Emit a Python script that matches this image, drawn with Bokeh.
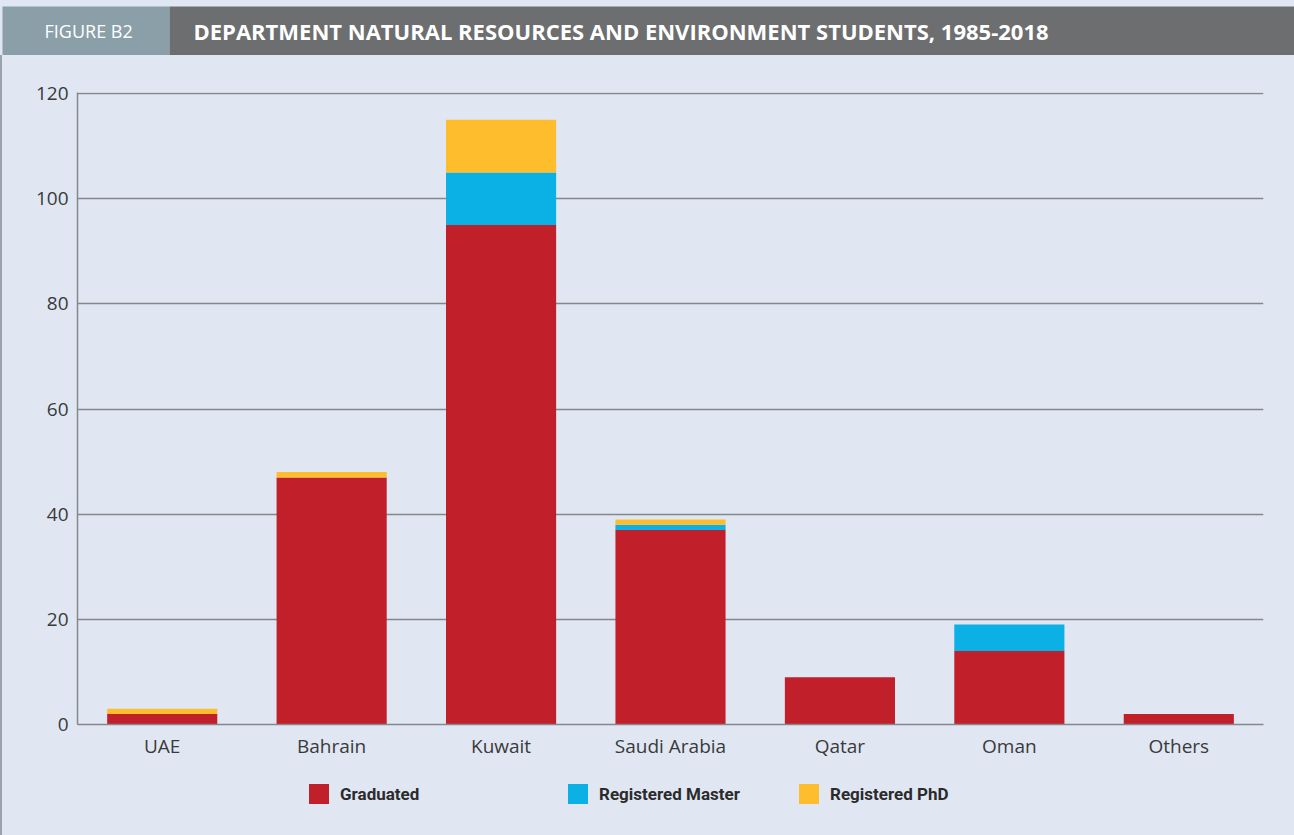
from bokeh.plotting import figure
from bokeh.models import (Range1d, FactorRange, Legend, LegendItem, FixedTicker,
                          Label, BoxAnnotation, ColumnDataSource)
from bokeh.layouts import column
from bokeh.embed import file_html
from bokeh.resources import INLINE

# ---- data ----
countries = ["UAE", "Bahrain", "Kuwait", "Saudi Arabia", "Qatar", "Oman", "Others"]
graduated = [2, 47, 95, 37, 9, 14, 2]
registered_master = [0, 0, 10, 1, 0, 5, 0]
registered_phd = [1, 1, 10, 1, 0, 0, 0]
series_names = ["Graduated", "Registered Master", "Registered PhD"]
series_keys = ["graduated", "master", "phd"]
y_ticks = [0, 20, 40, 60, 80, 100, 120]
title_text = "DEPARTMENT NATURAL RESOURCES AND ENVIRONMENT STUDENTS, 1985-2018"
figure_tag = "FIGURE  B2"

# ---- styles ----
BG = "#e0e7f3"
COLORS = ["#c1202a", "#0bb0e4", "#fdbd2c"]
GRID = "#85888b"
EDGE = "#9aa3ab"
TXT = "#3a3a3a"
W = 1294
HEAD_H = 55
MAIN_H = 725
LEG_H = 55
EDGE_W = 2


def plain(fig):
    fig.grid.visible = False
    fig.outline_line_color = None
    fig.background_fill_color = BG
    fig.border_fill_color = BG


# ---- header ----
h = figure(width=W, height=HEAD_H, x_range=Range1d(0, W), y_range=Range1d(0, HEAD_H),
           toolbar_location=None, output_backend="svg", min_border=0,
           x_axis_location=None, y_axis_location=None)
h.frame_align = False
plain(h)
h.add_layout(BoxAnnotation(left=2, right=169, bottom=0, top=49,
                           fill_color="#8b9fa9", fill_alpha=1, line_color=None))
h.add_layout(BoxAnnotation(left=169, right=W, bottom=0, top=49,
                           fill_color="#6d6e70", fill_alpha=1, line_color=None))
h.add_layout(Label(x=44, y=24.5, text=figure_tag, text_color="white",
                   text_font_size="18px", text_baseline="middle",
                   text_font="'Open Sans'"))
h.add_layout(Label(x=193, y=24.5, text=title_text, text_color="white",
                   text_font_size="22px", text_font_style="bold", text_baseline="middle",
                   text_font="'Open Sans'"))

# ---- main chart ----
source = ColumnDataSource(dict(country=countries, graduated=graduated,
                               master=registered_master, phd=registered_phd))

p = figure(width=W - EDGE_W, height=MAIN_H,
           x_range=FactorRange(factors=countries, range_padding=0),
           y_range=Range1d(0, 120.2), toolbar_location=None, output_backend="svg",
           min_border_left=77 - EDGE_W, min_border_right=W - 1263,
           min_border_top=92 - HEAD_H, min_border_bottom=HEAD_H + MAIN_H - 724)
p.background_fill_color = BG
p.border_fill_color = BG
p.outline_line_color = None
p.styles = {"border-left": f"{EDGE_W}px solid {EDGE}"}

renderers = p.vbar_stack(series_keys, x="country", width=0.65, source=source,
                         color=COLORS, line_color=None)

p.yaxis.ticker = FixedTicker(ticks=y_ticks)
for ax in (p.xaxis, p.yaxis):
    ax.axis_line_color = GRID
    ax.axis_line_width = 1.5
    ax.major_tick_line_color = None
    ax.minor_tick_line_color = None
    ax.major_tick_out = 0
    ax.major_tick_in = 0
    ax.major_label_text_font = "Open Sans"
    ax.major_label_text_font_size = "19px"
    ax.major_label_text_color = TXT
p.yaxis.major_label_standoff = 9
p.xaxis.major_label_standoff = 8
p.xgrid.visible = False
p.ygrid.grid_line_color = GRID
p.ygrid.grid_line_width = 1.5

# ---- legend strip (zero-size placeholder bars carry the series colours) ----
lg = figure(width=W - EDGE_W, height=LEG_H, x_range=Range1d(0, 1), y_range=Range1d(0, 1),
            toolbar_location=None, output_backend="svg", min_border=0,
            x_axis_location=None, y_axis_location=None)
lg.frame_align = False
plain(lg)
lg.styles = {"border-left": f"{EDGE_W}px solid {EDGE}"}
legend_x = [307, 566, 797]
for name, col, lx in zip(series_names, COLORS, legend_x):
    r = lg.vbar(x=[0], top=[0], width=0, fill_color=col, line_color=None)
    leg = Legend(items=[LegendItem(label=name, renderers=[r])],
                 location=(lx - 3, 29), orientation="horizontal", padding=0, margin=0,
                 glyph_width=25, glyph_height=25, label_standoff=9, label_height=25,
                 border_line_color=None, background_fill_alpha=0,
                 label_text_font_size="17px", label_text_font_style="bold",
                 label_text_color="#2b2b2b", label_text_font="Roboto")
    lg.add_layout(leg, "center")

layout = column(h, p, lg, spacing=0, styles={"background-color": BG})
open("out.html", "w").write(file_html(layout, INLINE))
